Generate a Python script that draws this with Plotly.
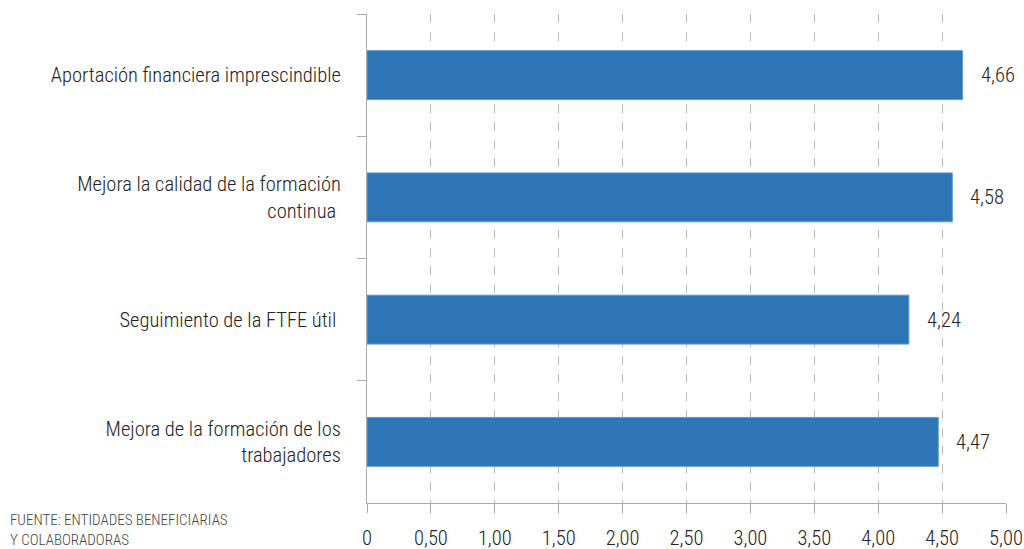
import plotly.graph_objects as go

categories = [
    "Aportación financiera imprescindible",
    "Mejora la calidad de la formación<br>continua ",
    "Seguimiento de la FTFE útil ",
    "Mejora de la formación de los<br>trabajadores",
]
values = [4.66, 4.58, 4.24, 4.47]
value_labels = ["4,66", "4,58", "4,24", "4,47"]
tick_vals = [0, 0.5, 1, 1.5, 2, 2.5, 3, 3.5, 4, 4.5, 5]
tick_text = ["0", "0,50", "1,00", "1,50", "2,00", "2,50", "3,00", "3,50", "4,00", "4,50", "5,00"]

FONT = "Roboto Condensed, Liberation Sans Narrow, DejaVu Sans Condensed, sans-serif"

W, H = 1024, 549
L, R, T, B = 367, 18, 14, 46
plot_w = W - L - R
plot_h = H - T - B

fig = go.Figure()
fig.add_trace(go.Bar(
    x=values, y=categories, orientation="h",
    marker=dict(color="#2E75B6", line=dict(color="#5B9BD5", width=1)),
    width=0.4,
    hoverinfo="skip",
))

for v, c, t in zip(values, categories, value_labels):
    fig.add_annotation(x=v, y=c, text=t, showarrow=False, xanchor="left",
                       xshift=16, font=dict(family=FONT, size=20.5, weight=300, color="#222222"))

fig.add_annotation(xref="paper", yref="paper", x=-(L - 8) / plot_w, y=-(B + 2) / plot_h,
                   xanchor="left", yanchor="bottom", align="left", showarrow=False,
                   text="FUENTE: ENTIDADES BENEFICIARIAS<br>Y COLABORADORAS",
                   font=dict(family=FONT, size=15, weight=300, color="#444444"))

fig.update_layout(
    width=W, height=H,
    margin=dict(l=L, r=R, t=T, b=B, autoexpand=False),
    paper_bgcolor="white", plot_bgcolor="white",
    showlegend=False,
    font=dict(family=FONT, size=20.5, weight=300, color="#222222"),
)
fig.update_xaxes(
    range=[0, 5], tickvals=tick_vals, ticktext=tick_text,
    showgrid=True, gridcolor="#BBBBBB", griddash="dash", gridwidth=1,
    showline=True, linecolor="#AAAAAA", linewidth=1,
    ticks="outside", ticklen=9, tickcolor="#AAAAAA",
    zeroline=False, automargin=False, ticklabeloverflow="allow",
    ticklabelstandoff=7,
    tickfont=dict(family=FONT, size=20.5, weight=300, color="#222222"),
)
fig.update_yaxes(
    autorange="reversed", showgrid=False, automargin=False,
    showline=True, linecolor="#AAAAAA", linewidth=1,
    ticks="outside", ticklen=9, tickcolor="#AAAAAA", tickson="boundaries",
    ticklabelstandoff=21,
    tickfont=dict(family=FONT, size=20.5, weight=300, color="#222222"),
)

fig.write_html("out.html", config={"displayModeBar": False},
               post_script="document.body.style.margin='0';document.body.style.overflow='hidden';")
